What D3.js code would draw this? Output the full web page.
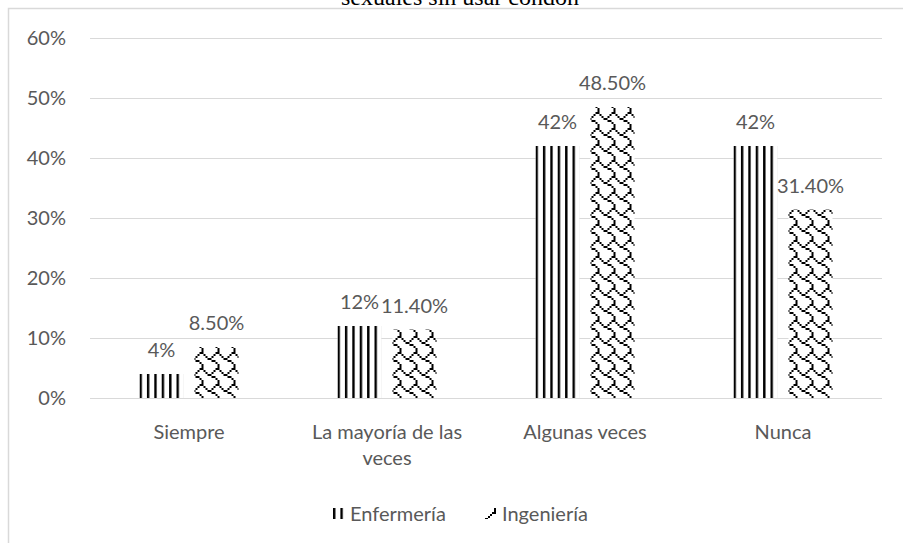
<!DOCTYPE html>
<html>
<head>
<meta charset="utf-8">
<script src="https://cdn.jsdelivr.net/npm/d3@7"></script>
<style>
  body { margin: 0; background: #fff; }
  text { font-family: Lato, "Open Sans", sans-serif; fill: #595959; }
</style>
</head>
<body>
<script>
// chart data
const categories = ["Siempre", "La mayoría de las veces", "Algunas veces", "Nunca"];
const series = ["Enfermería", "Ingeniería"];
const enfermeria = [0.04, 0.12, 0.42, 0.42];
const ingenieria = [0.085, 0.114, 0.485, 0.314];
const enfLabels = ["4%", "12%", "42%", "42%"];
const ingLabels = ["8.50%", "11.40%", "48.50%", "31.40%"];
const yTicks = [0, 0.1, 0.2, 0.3, 0.4, 0.5, 0.6];
const titleText = "sexuales sin usar condón";

const width = 903, height = 543;
const plotLeft = 90, plotRight = 882, plotTop = 38, plotBottom = 398;
const fontSize = "20px";

const svg = d3.select("body").append("svg")
    .attr("width", width)
    .attr("height", height);

// patterns
const defs = svg.append("defs");
const vert = defs.append("pattern")
    .attr("id", "pat-vert")
    .attr("patternUnits", "userSpaceOnUse")
    .attr("width", 7.4).attr("height", 8);
vert.append("rect").attr("width", 7.4).attr("height", 8).attr("fill", "#fff");
vert.append("rect").attr("x", 0).attr("width", 2.4).attr("height", 8).attr("fill", "#000");

// shingle hatch bitmap 8x8, drawn at 2x
const shingleRows = [
    "00000011",
    "10000100",
    "01001000",
    "00110000",
    "00001100",
    "00000010",
    "00000001",
    "00000001"
];
const sh = defs.append("pattern")
    .attr("id", "pat-shingle")
    .attr("patternUnits", "userSpaceOnUse")
    .attr("width", 16).attr("height", 16);
sh.append("rect").attr("width", 16).attr("height", 16).attr("fill", "#fff");
shingleRows.forEach((row, r) => {
    row.split("").forEach((c, k) => {
        if (c === "1") {
            sh.append("rect")
                .attr("x", k * 2).attr("y", r * 2)
                .attr("width", 2).attr("height", 2)
                .attr("fill", "#000");
        }
    });
});

const fills = { "Enfermería": "url(#pat-vert)", "Ingeniería": "url(#pat-shingle)" };

// chart border (extends past the right and bottom edges)
svg.append("rect")
    .attr("x", 8.5).attr("y", 8.5)
    .attr("width", 1000).attr("height", 1000)
    .attr("fill", "none")
    .attr("stroke", "#d9d9d9")
    .attr("stroke-width", 1.5);

// title, partly cut off at the top like in the source
svg.append("text")
    .attr("x", 460).attr("y", 5)
    .attr("text-anchor", "middle")
    .style("font-family", "'Liberation Serif', 'Times New Roman', serif")
    .style("font-size", "24px")
    .style("fill", "#000")
    .text(titleText);

const y = d3.scaleLinear().domain([0, 0.6]).range([plotBottom, plotTop]);
const x0 = d3.scaleBand().domain(categories).range([plotLeft, plotRight]);

// gridlines
svg.append("g")
    .selectAll("line")
    .data(yTicks)
    .join("line")
    .attr("x1", plotLeft).attr("x2", plotRight)
    .attr("y1", d => Math.round(y(d)) + 0.5)
    .attr("y2", d => Math.round(y(d)) + 0.5)
    .attr("stroke", "#d9d9d9")
    .attr("stroke-width", 1);

// y axis labels
const yAxis = svg.append("g")
    .attr("transform", `translate(${plotLeft},0)`)
    .call(d3.axisLeft(y).tickValues(yTicks).tickFormat(d3.format(".0%")).tickSize(0).tickPadding(24));
yAxis.select(".domain").remove();
yAxis.selectAll("text")
    .style("font-size", fontSize)
    .style("font-family", "Lato, sans-serif")
    .attr("fill", "#595959");

// bars
const rows = categories.map((c, i) => ({
    cat: c,
    vals: [
        { s: series[0], v: enfermeria[i], label: enfLabels[i] },
        { s: series[1], v: ingenieria[i], label: ingLabels[i] }
    ]
}));

const groupWidth = 99;
const groups = svg.append("g")
    .selectAll("g")
    .data(rows)
    .join("g")
    .attr("transform", d => `translate(${x0(d.cat) + x0.bandwidth() / 2 - groupWidth / 2},0)`);

const x1 = d3.scaleBand().domain(series).range([0, groupWidth]).paddingInner(0.2);

groups.selectAll("rect")
    .data(d => d.vals)
    .join("rect")
    .attr("x", d => x1(d.s))
    .attr("y", d => y(d.v))
    .attr("width", x1.bandwidth())
    .attr("height", d => plotBottom - y(d.v))
    .attr("fill", d => fills[d.s]);

groups.selectAll("text.lbl")
    .data(d => d.vals)
    .join("text")
    .attr("class", "lbl")
    .attr("x", d => x1(d.s) + x1.bandwidth() / 2)
    .attr("y", d => y(d.v) - 17)
    .attr("text-anchor", "middle")
    .style("font-size", fontSize)
    .text(d => d.label);

// category labels (wrapped)
const wrapMap = {
    "La mayoría de las veces": ["La mayoría de las", "veces"]
};
const catG = svg.append("g");
categories.forEach(c => {
    const lines = wrapMap[c] || [c];
    const t = catG.append("text")
        .attr("x", x0(c) + x0.bandwidth() / 2)
        .attr("y", 439)
        .attr("text-anchor", "middle")
        .style("font-size", fontSize);
    lines.forEach((ln, i) => {
        t.append("tspan")
            .attr("x", x0(c) + x0.bandwidth() / 2)
            .attr("dy", i === 0 ? 0 : 26)
            .text(ln);
    });
});

// legend
const legend = svg.append("g");
const legendItems = [
    { s: series[0], x: 333 },
    { s: series[1], x: 485 }
];
legendItems.forEach(d => {
    legend.append("rect")
        .attr("x", d.x).attr("y", 508)
        .attr("width", 11).attr("height", 11)
        .attr("fill", fills[d.s]);
    legend.append("text")
        .attr("x", d.x + 17).attr("y", 521)
        .style("font-size", fontSize)
        .text(d.s);
});
</script>
</body>
</html>
